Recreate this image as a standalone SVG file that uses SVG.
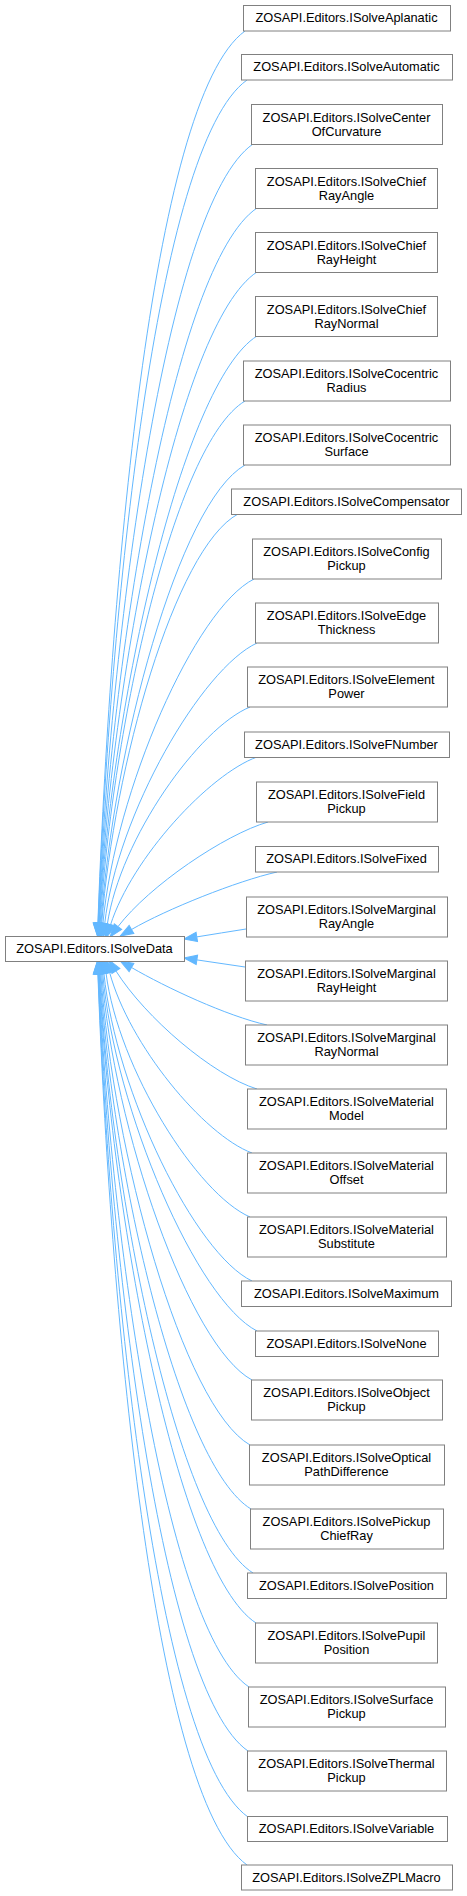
<svg xmlns="http://www.w3.org/2000/svg" width="467" height="1896" viewBox="0 0 467 1896">
<style>
.n rect{fill:#fff;stroke:#808080;stroke-width:1}
.n text{font-family:"Liberation Sans",Arial,sans-serif;font-size:12.8px;text-anchor:middle;fill:#000}
.e path{fill:none;stroke:#63b8ff;stroke-width:1;marker-end:url(#ah)}
</style>
<defs>
<marker id="ah" viewBox="0 0 13 10" markerWidth="13" markerHeight="10" refX="0" refY="5" orient="auto" markerUnits="userSpaceOnUse" overflow="visible">
<path d="M0,0.3 L13,5 L0,9.7 z" fill="#63b8ff" stroke="#63b8ff" stroke-width="1"/>
</marker>
</defs>
<rect width="467" height="1896" fill="#fff"/>
<g id="edges" class="e">
<path d="M245,31 C150,100 109.7,600.5 97.9,923.1"/>
<path d="M247,80 C155.2,145.5 109.9,617.1 98.1,923.1"/>
<path d="M253,144 C165.4,205 110.2,639 98.4,923.1"/>
<path d="M257,208 C173.5,264.4 110.6,660.9 98.7,923.1"/>
<path d="M257,272 C177.8,323.8 111,683.3 99.1,923.2"/>
<path d="M257,336 C182,383.2 111.5,705.3 99.5,923.2"/>
<path d="M245,401 C174.2,443.6 112.3,727.8 100.2,923.3"/>
<path d="M245,465 C178.4,503 113.1,750.1 101,923.3"/>
<path d="M238,514 C174.6,548.6 113.9,767.2 101.7,923.4"/>
<path d="M254,579 C194.9,608.9 115.2,790.6 102.9,923.6"/>
<path d="M257,643 C202,668.3 117.1,813.8 104.7,923.8"/>
<path d="M250,707 C199.2,727.8 120.3,837.9 107.3,924.3"/>
<path d="M257,757 C209.5,774.2 132,857.6 110.5,924.9"/>
<path d="M268,822 C224.8,834.5 149.2,885.7 118,926.6"/>
<path d="M277,872 C237,881 166.1,909.4 131.5,929.5"/>
<path d="M246,929 C230,931.5 213,934.3 196.8,936.9"/>
<path d="M245,967 C229,964.6 213,962.3 196.9,959.9"/>
<path d="M267,1025 C227,1016 166.1,987.6 131.5,967.5"/>
<path d="M257,1089 C212.8,1075.4 145.4,1017.7 115.9,970.9"/>
<path d="M252,1153 C203.6,1134.9 129,1044.6 109.6,972.3"/>
<path d="M250,1217 C197.5,1194.3 118.4,1069.4 106,972.9"/>
<path d="M252,1281 C195.3,1253.8 116.2,1093 103.9,973.3"/>
<path d="M257,1331 C197,1300.2 115,1111.2 102.7,973.5"/>
<path d="M252,1380 C188.8,1345.7 113.9,1128.6 101.7,973.6"/>
<path d="M250,1445 C182.6,1406.1 112.9,1151.4 100.8,973.7"/>
<path d="M251,1509 C179.3,1465.4 112.2,1173.9 100.1,973.7"/>
<path d="M253,1573 C177.1,1524.9 111.5,1196 99.5,973.8"/>
<path d="M256,1623 C176.9,1571.3 111,1213.1 99.1,973.8"/>
<path d="M249,1687 C165.7,1630.8 110.6,1235.2 98.7,973.9"/>
<path d="M248,1751 C160.5,1690.2 110.2,1257.2 98.4,973.9"/>
<path d="M248,1817 C156.2,1751.5 109.9,1279.9 98.1,973.9"/>
<path d="M247,1865 C152.1,1796.1 109.7,1296.2 97.9,973.9"/>
</g>
<g id="ISolveData" class="n"><rect x="5.5" y="936.5" width="179" height="25"/><text x="94.5" y="953">ZOSAPI.Editors.ISolveData</text></g>
<g id="ISolveAplanatic" class="n"><rect x="243.5" y="5.5" width="207" height="25.5"/><text x="346.5" y="22">ZOSAPI.Editors.ISolveAplanatic</text></g>
<g id="ISolveAutomatic" class="n"><rect x="241.5" y="54.5" width="211" height="25.5"/><text x="346.5" y="71">ZOSAPI.Editors.ISolveAutomatic</text></g>
<g id="ISolveCenterOfCurvature" class="n"><rect x="251.5" y="104.5" width="191" height="40"/><text x="346.5" y="121.5">ZOSAPI.Editors.ISolveCenter</text><text x="346.5" y="135.5">OfCurvature</text></g>
<g id="ISolveChiefRayAngle" class="n"><rect x="255.5" y="168.5" width="182" height="40"/><text x="346.5" y="185.5">ZOSAPI.Editors.ISolveChief</text><text x="346.5" y="199.5">RayAngle</text></g>
<g id="ISolveChiefRayHeight" class="n"><rect x="255.5" y="232.5" width="182" height="40"/><text x="346.5" y="249.5">ZOSAPI.Editors.ISolveChief</text><text x="346.5" y="263.5">RayHeight</text></g>
<g id="ISolveChiefRayNormal" class="n"><rect x="255.5" y="296.5" width="182" height="40"/><text x="346.5" y="313.5">ZOSAPI.Editors.ISolveChief</text><text x="346.5" y="327.5">RayNormal</text></g>
<g id="ISolveCocentricRadius" class="n"><rect x="243.5" y="361" width="207" height="40"/><text x="346.5" y="378">ZOSAPI.Editors.ISolveCocentric</text><text x="346.5" y="392">Radius</text></g>
<g id="ISolveCocentricSurface" class="n"><rect x="243.5" y="425" width="207" height="40"/><text x="346.5" y="442">ZOSAPI.Editors.ISolveCocentric</text><text x="346.5" y="456">Surface</text></g>
<g id="ISolveCompensator" class="n"><rect x="231.5" y="489" width="230" height="25.5"/><text x="346.5" y="505.5">ZOSAPI.Editors.ISolveCompensator</text></g>
<g id="ISolveConfigPickup" class="n"><rect x="252.5" y="539" width="189" height="40"/><text x="346.5" y="556">ZOSAPI.Editors.ISolveConfig</text><text x="346.5" y="570">Pickup</text></g>
<g id="ISolveEdgeThickness" class="n"><rect x="255.5" y="603" width="183" height="40"/><text x="346.5" y="620">ZOSAPI.Editors.ISolveEdge</text><text x="346.5" y="634">Thickness</text></g>
<g id="ISolveElementPower" class="n"><rect x="247.5" y="667" width="200" height="40"/><text x="346.5" y="684">ZOSAPI.Editors.ISolveElement</text><text x="346.5" y="698">Power</text></g>
<g id="ISolveFNumber" class="n"><rect x="244.5" y="732" width="205" height="25.5"/><text x="346.5" y="748.5">ZOSAPI.Editors.ISolveFNumber</text></g>
<g id="ISolveFieldPickup" class="n"><rect x="256.5" y="782" width="181" height="40"/><text x="346.5" y="799">ZOSAPI.Editors.ISolveField</text><text x="346.5" y="813">Pickup</text></g>
<g id="ISolveFixed" class="n"><rect x="255.5" y="846.5" width="183" height="25.5"/><text x="346.5" y="863">ZOSAPI.Editors.ISolveFixed</text></g>
<g id="ISolveMarginalRayAngle" class="n"><rect x="246.5" y="897" width="201" height="40"/><text x="346.5" y="914">ZOSAPI.Editors.ISolveMarginal</text><text x="346.5" y="928">RayAngle</text></g>
<g id="ISolveMarginalRayHeight" class="n"><rect x="245.5" y="961" width="202" height="40"/><text x="346.5" y="978">ZOSAPI.Editors.ISolveMarginal</text><text x="346.5" y="992">RayHeight</text></g>
<g id="ISolveMarginalRayNormal" class="n"><rect x="245.5" y="1025" width="202" height="40"/><text x="346.5" y="1042">ZOSAPI.Editors.ISolveMarginal</text><text x="346.5" y="1056">RayNormal</text></g>
<g id="ISolveMaterialModel" class="n"><rect x="247.5" y="1089" width="199" height="40"/><text x="346.5" y="1106">ZOSAPI.Editors.ISolveMaterial</text><text x="346.5" y="1120">Model</text></g>
<g id="ISolveMaterialOffset" class="n"><rect x="247.5" y="1153" width="199" height="40"/><text x="346.5" y="1170">ZOSAPI.Editors.ISolveMaterial</text><text x="346.5" y="1184">Offset</text></g>
<g id="ISolveMaterialSubstitute" class="n"><rect x="247.5" y="1217" width="199" height="40"/><text x="346.5" y="1234">ZOSAPI.Editors.ISolveMaterial</text><text x="346.5" y="1248">Substitute</text></g>
<g id="ISolveMaximum" class="n"><rect x="241.5" y="1281" width="210" height="25.5"/><text x="346.5" y="1297.5">ZOSAPI.Editors.ISolveMaximum</text></g>
<g id="ISolveNone" class="n"><rect x="255.5" y="1331" width="183" height="25.5"/><text x="346.5" y="1347.5">ZOSAPI.Editors.ISolveNone</text></g>
<g id="ISolveObjectPickup" class="n"><rect x="251.5" y="1380" width="191" height="40"/><text x="346.5" y="1397">ZOSAPI.Editors.ISolveObject</text><text x="346.5" y="1411">Pickup</text></g>
<g id="ISolveOpticalPathDifference" class="n"><rect x="249.5" y="1445" width="195" height="40"/><text x="346.5" y="1462">ZOSAPI.Editors.ISolveOptical</text><text x="346.5" y="1476">PathDifference</text></g>
<g id="ISolvePickupChiefRay" class="n"><rect x="250.5" y="1509" width="193" height="40"/><text x="346.5" y="1526">ZOSAPI.Editors.ISolvePickup</text><text x="346.5" y="1540">ChiefRay</text></g>
<g id="ISolvePosition" class="n"><rect x="247.5" y="1573" width="199" height="25.5"/><text x="346.5" y="1589.5">ZOSAPI.Editors.ISolvePosition</text></g>
<g id="ISolvePupilPosition" class="n"><rect x="255.5" y="1623" width="182" height="40"/><text x="346.5" y="1640">ZOSAPI.Editors.ISolvePupil</text><text x="346.5" y="1654">Position</text></g>
<g id="ISolveSurfacePickup" class="n"><rect x="248.5" y="1687" width="197" height="40"/><text x="346.5" y="1704">ZOSAPI.Editors.ISolveSurface</text><text x="346.5" y="1718">Pickup</text></g>
<g id="ISolveThermalPickup" class="n"><rect x="247.5" y="1751" width="199" height="40"/><text x="346.5" y="1768">ZOSAPI.Editors.ISolveThermal</text><text x="346.5" y="1782">Pickup</text></g>
<g id="ISolveVariable" class="n"><rect x="247.5" y="1816.5" width="200" height="25"/><text x="346.5" y="1833">ZOSAPI.Editors.ISolveVariable</text></g>
<g id="ISolveZPLMacro" class="n"><rect x="241.5" y="1865" width="211" height="25"/><text x="346.5" y="1881.5">ZOSAPI.Editors.ISolveZPLMacro</text></g>
</svg>
